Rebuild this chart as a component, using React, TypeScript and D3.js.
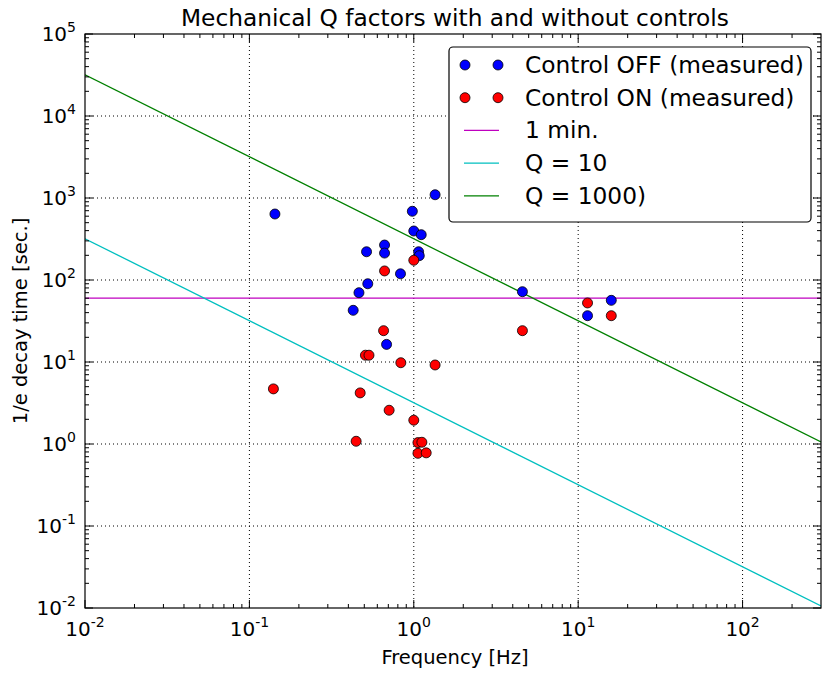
import * as d3 from "d3";

const offFreq = [0.143, 1.348, 0.98, 1.0, 1.11, 0.664, 0.516, 0.664, 1.07, 1.08, 0.83, 0.525, 0.464, 0.428, 0.683, 4.58, 11.4, 15.9];
const offTau = [638, 1096, 689, 396, 357, 267, 221, 213, 221, 198, 119, 90, 70, 42.7, 16.4, 72, 36.7, 56.5];

const onFreq = [1.0, 0.664, 0.655, 0.508, 0.534, 0.834, 1.348, 0.14, 0.472, 0.708, 1.0, 0.446, 1.06, 1.12, 1.06, 1.19, 4.58, 11.4, 15.9];
const onTau = [174, 129, 24.1, 12.1, 12.1, 9.8, 9.2, 4.7, 4.2, 2.58, 1.95, 1.08, 1.04, 1.05, 0.77, 0.78, 24.1, 52.5, 36.7];

const xDecades = [-2, -1, 0, 1, 2];
const yDecades = [-2, -1, 0, 1, 2, 3, 4, 5];
const qValues = [10, 1000];
const oneMinute = 60;

const W = 822;
const H = 675;
const left = 85;
const right = 821;
const top = 34;
const bottom = 608;
const font = "DejaVu Sans, sans-serif";

const x = d3.scaleLog().domain([0.01, 300]).range([left, right]);
const y = d3.scaleLog().domain([0.01, 1e5]).range([bottom, top]);

const minorX: number[] = [];
for (let e = -2; e <= 2; e++) for (let m = 2; m <= 9; m++) {
  const v = m * Math.pow(10, e);
  if (v < 300) minorX.push(v);
}
const minorY: number[] = [];
for (let e = -2; e <= 4; e++) for (let m = 2; m <= 9; m++) minorY.push(m * Math.pow(10, e));

const qLine = (q: number) => {
  const f = (fr: number) => q / (Math.PI * fr);
  return d3.line<number>().x((d) => x(d)).y((d) => y(f(d)))([0.01, 300]);
};

const legendItems = [
  { label: "Control OFF (measured)", kind: "dot", color: "#0000ff" },
  { label: "Control ON (measured)", kind: "dot", color: "#ff0000" },
  { label: "1 min.", kind: "line", color: "#bf00bf" },
  { label: "Q = 10", kind: "line", color: "#00bfbf" },
  { label: "Q = 1000)", kind: "line", color: "#008000" },
];

export default function App() {
  const Pow = ({ e }: { e: number }) => (
    <>
      10<tspan dy={-9} fontSize={14}>{e}</tspan>
    </>
  );
  return (
    <div style={{ position: "absolute", left: 0, top: 0 }}>
      <svg width={W} height={H} style={{ display: "block", background: "#fff" }} fontFamily={font}>
        <defs>
          <clipPath id="plot">
            <rect x={left} y={top} width={right - left} height={bottom - top} />
          </clipPath>
        </defs>
        {/* grid */}
        <g stroke="#000" strokeWidth={1} strokeDasharray="1,3">
          {xDecades.slice(1).map((e) => (
            <line key={"gx" + e} x1={x(Math.pow(10, e))} x2={x(Math.pow(10, e))} y1={top} y2={bottom} />
          ))}
          {yDecades.slice(1, -1).map((e) => (
            <line key={"gy" + e} y1={y(Math.pow(10, e))} y2={y(Math.pow(10, e))} x1={left} x2={right} />
          ))}
        </g>
        {/* lines */}
        <g clipPath="url(#plot)" fill="none" strokeWidth={1.3}>
          <line x1={left} x2={right} y1={y(oneMinute)} y2={y(oneMinute)} stroke="#bf00bf" />
          <path d={qLine(qValues[0]) || ""} stroke="#00bfbf" />
          <path d={qLine(qValues[1]) || ""} stroke="#008000" />
        </g>
        {/* points */}
        <g stroke="#000" strokeWidth={0.8}>
          {offFreq.map((f, i) => (
            <circle key={"b" + i} cx={x(f)} cy={y(offTau[i])} r={5} fill="#0000ff" />
          ))}
          {onFreq.map((f, i) => (
            <circle key={"r" + i} cx={x(f)} cy={y(onTau[i])} r={5} fill="#ff0000" />
          ))}
        </g>
        {/* ticks */}
        <g stroke="#000" strokeWidth={1}>
          {xDecades.map((e) => {
            const px = x(Math.pow(10, e));
            return (
              <g key={"tx" + e}>
                <line x1={px} x2={px} y1={bottom} y2={bottom - 8} />
                <line x1={px} x2={px} y1={top} y2={top + 8} />
              </g>
            );
          })}
          {minorX.map((v, i) => (
            <g key={"mx" + i}>
              <line x1={x(v)} x2={x(v)} y1={bottom} y2={bottom - 4} />
              <line x1={x(v)} x2={x(v)} y1={top} y2={top + 4} />
            </g>
          ))}
          {yDecades.map((e) => {
            const py = y(Math.pow(10, e));
            return (
              <g key={"ty" + e}>
                <line x1={left} x2={left + 8} y1={py} y2={py} />
                <line x1={right} x2={right - 8} y1={py} y2={py} />
              </g>
            );
          })}
          {minorY.map((v, i) => (
            <g key={"my" + i}>
              <line x1={left} x2={left + 4} y1={y(v)} y2={y(v)} />
              <line x1={right} x2={right - 4} y1={y(v)} y2={y(v)} />
            </g>
          ))}
        </g>
        <rect x={left} y={top} width={right - left} height={bottom - top} fill="none" stroke="#000" strokeWidth={1.2} />
        {/* tick labels */}
        <g fontSize={20} fill="#000">
          {xDecades.map((e) => (
            <text key={"lx" + e} x={x(Math.pow(10, e))} y={636} textAnchor="middle">
              <Pow e={e} />
            </text>
          ))}
          {yDecades.map((e) => (
            <text key={"ly" + e} x={76} y={y(Math.pow(10, e)) + 7} textAnchor="end">
              <Pow e={e} />
            </text>
          ))}
        </g>
        {/* titles */}
        <text x={455} y={26} textAnchor="middle" fontSize={23.3}>Mechanical Q factors with and without controls</text>
        <text x={455} y={664} textAnchor="middle" fontSize={19.5}>Frequency [Hz]</text>
        <text transform={`translate(27,${(top + bottom) / 2}) rotate(-90)`} textAnchor="middle" fontSize={19.5}>1/e decay time [sec.]</text>
        {/* legend */}
        <g>
          <rect x={449} y={47} width={362} height={175} rx={4} fill="#fff" stroke="#000" strokeWidth={1.2} />
          {legendItems.map((it, i) => {
            const cy = 65 + i * 32.7;
            return (
              <g key={"lg" + i}>
                {it.kind === "dot" ? (
                  <>
                    <circle cx={465} cy={cy} r={5} fill={it.color} stroke="#000" strokeWidth={0.8} />
                    <circle cx={498} cy={cy} r={5} fill={it.color} stroke="#000" strokeWidth={0.8} />
                  </>
                ) : (
                  <line x1={464} x2={499} y1={cy} y2={cy} stroke={it.color} strokeWidth={1.3} />
                )}
                <text x={525} y={cy + 8} fontSize={23.3}>{it.label}</text>
              </g>
            );
          })}
        </g>
      </svg>
    </div>
  );
}
